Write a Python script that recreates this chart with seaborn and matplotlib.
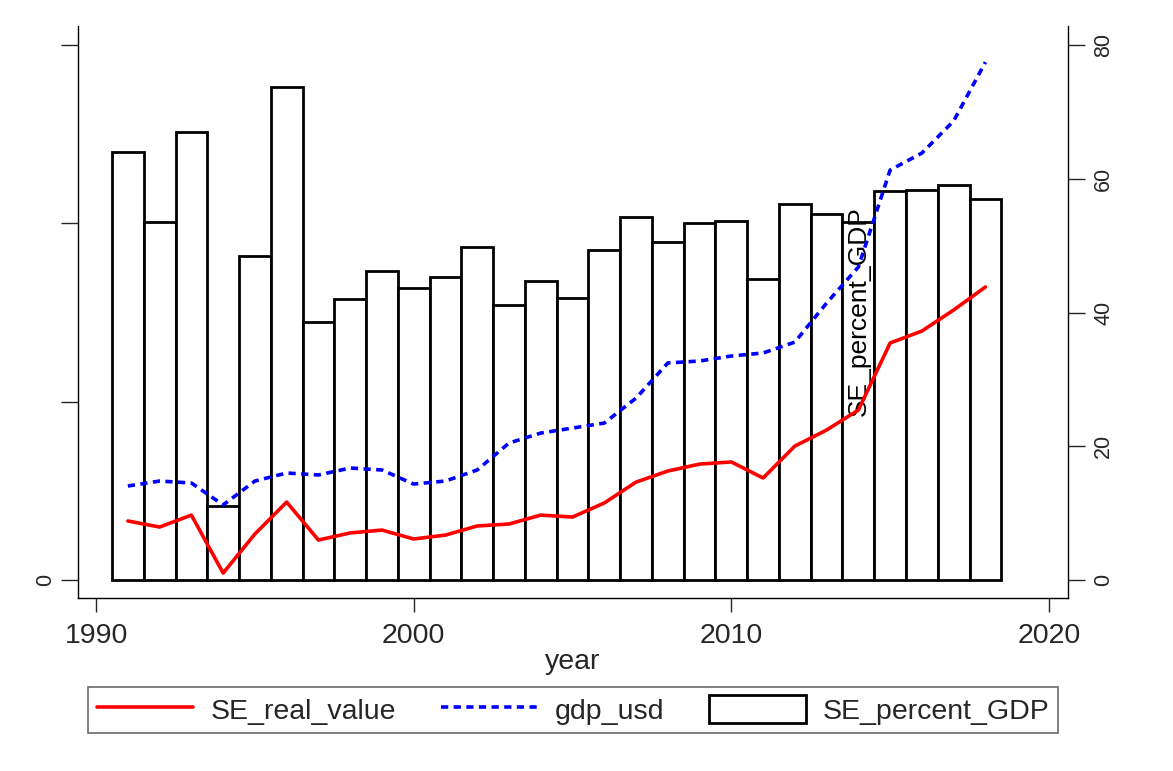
import matplotlib
matplotlib.use("Agg")
import matplotlib.pyplot as plt
import seaborn as sns
import pandas as pd
from matplotlib.patches import Patch
from matplotlib.lines import Line2D

years = list(range(1991, 2019))
se_real_value = [33.1, 29.7, 36.4, 3.9, 25.8, 43.7, 22.4, 26.4, 28.0, 23.0,
                 25.2, 30.3, 31.4, 36.4, 35.3, 43.2, 54.9, 61.1, 65.0, 66.2,
                 57.2, 75.1, 84.1, 95.3, 132.9, 139.6, 151.4, 164.3]
gdp_usd = [52.7, 55.5, 54.4, 42.1, 55.5, 60.0, 58.9, 62.8, 61.7, 53.8,
           55.5, 61.7, 76.8, 82.4, 85.2, 88.0, 102.0, 121.7, 122.8, 125.6,
           127.3, 133.4, 155.3, 175.5, 229.9, 239.4, 257.4, 290.4]
se_percent_gdp = [64.0, 53.5, 67.0, 11.1, 48.4, 73.7, 38.6, 42.0, 46.2, 43.7,
                  45.3, 49.8, 41.1, 44.7, 42.2, 49.3, 54.3, 50.5, 53.4, 53.7,
                  45.0, 56.2, 54.7, 53.5, 58.2, 58.3, 59.1, 57.0]
x_ticks = [1990, 2000, 2010, 2020]
right_ticks = [0, 20, 40, 60, 80]
left_ticks = [0, 100, 200, 300]
left_tick_labels = ["0", "", "", ""]

df = pd.DataFrame({"year": years, "SE_real_value": se_real_value,
                   "gdp_usd": gdp_usd, "SE_percent_GDP": se_percent_gdp})

sns.set_style("white")
plt.rcParams["font.family"] = ["Liberation Sans", "DejaVu Sans"]

fig = plt.figure(figsize=(11.73, 7.71), dpi=100)
ax = fig.add_axes([78/1173, 1-598/771, (1068-78)/1173, (598-26)/771])
ax2 = ax.twinx()

# bars on the primary axes (scale shown on the right)
sns.barplot(data=df, x="year", y="SE_percent_GDP", native_scale=True,
            width=1.0, facecolor="white", edgecolor="black", linewidth=2.0,
            ax=ax, zorder=2)
ax.set_xlim(1989.43, 2020.6)
ax.set_ylim(-2.69, 82.84)
ax.set_xticks(x_ticks)
ax.set_xticklabels([str(t) for t in x_ticks], fontsize=20.5)
ax.set_xlabel("year", fontsize=20.5, labelpad=0)
ax.set_ylabel("")
ax.tick_params(axis="x", direction="out", length=10, width=1, pad=8, bottom=True)
for s in ["left", "right", "bottom"]:
    ax.spines[s].set_visible(True)
    ax.spines[s].set_color("black")
    ax.spines[s].set_linewidth(1.0)
ax.spines["top"].set_visible(False)

ax.text(2014, 40.2, "SE_percent_GDP", rotation=90, ha="center", va="center",
        fontsize=19, color="black", zorder=3)

# lines on the twin axes (scale on the left)
sns.lineplot(data=df, x="year", y="SE_real_value", color="red", linewidth=2.6, ax=ax2)
sns.lineplot(data=df, x="year", y="gdp_usd", color="blue", linewidth=2.6,
             linestyle=(0, (2.0, 1.5)), ax=ax2)
ax2.set_ylim(-2.69 * 3.75, 82.84 * 3.75)
ax2.set_ylabel("")
for s in ax2.spines.values():
    s.set_visible(False)

# axis sides: right scale from bars, left scale from lines
ax.yaxis.set_ticks_position("right")
ax.yaxis.set_label_position("right")
ax.set_yticks(right_ticks)
ax.set_yticklabels([str(t) for t in right_ticks], rotation=90, va="center", fontsize=15.5)
ax.tick_params(axis="y", direction="out", length=12, width=1, pad=6,
               right=True, left=False, labelright=True, labelleft=False)

ax2.yaxis.set_ticks_position("left")
ax2.yaxis.set_label_position("left")
ax2.set_yticks(left_ticks)
ax2.set_yticklabels(left_tick_labels, rotation=90, va="center", fontsize=15.5)
ax2.tick_params(axis="y", direction="out", length=12, width=1, pad=4,
                left=True, right=False, labelleft=True, labelright=False)

handles = [Line2D([], [], color="red", linewidth=2.6),
           Line2D([], [], color="blue", linewidth=2.6, linestyle=(0, (2.0, 1.5))),
           Patch(facecolor="white", edgecolor="black", linewidth=2.0)]
labels = ["SE_real_value", "gdp_usd", "SE_percent_GDP"]
leg = fig.legend(handles, labels, loc="center", ncol=3,
                 bbox_to_anchor=(88/1173, 1-736/771, 970/1173, 52/771),
                 mode="expand", fontsize=20.5, frameon=True, fancybox=False,
                 handlelength=3.4, handleheight=1.1, handletextpad=0.6,
                 columnspacing=1.0, borderpad=0.3, borderaxespad=0)
leg.get_frame().set_edgecolor("#444444")
leg.get_frame().set_linewidth(1.2)

fig.savefig("out.png", dpi=100, facecolor="white")
